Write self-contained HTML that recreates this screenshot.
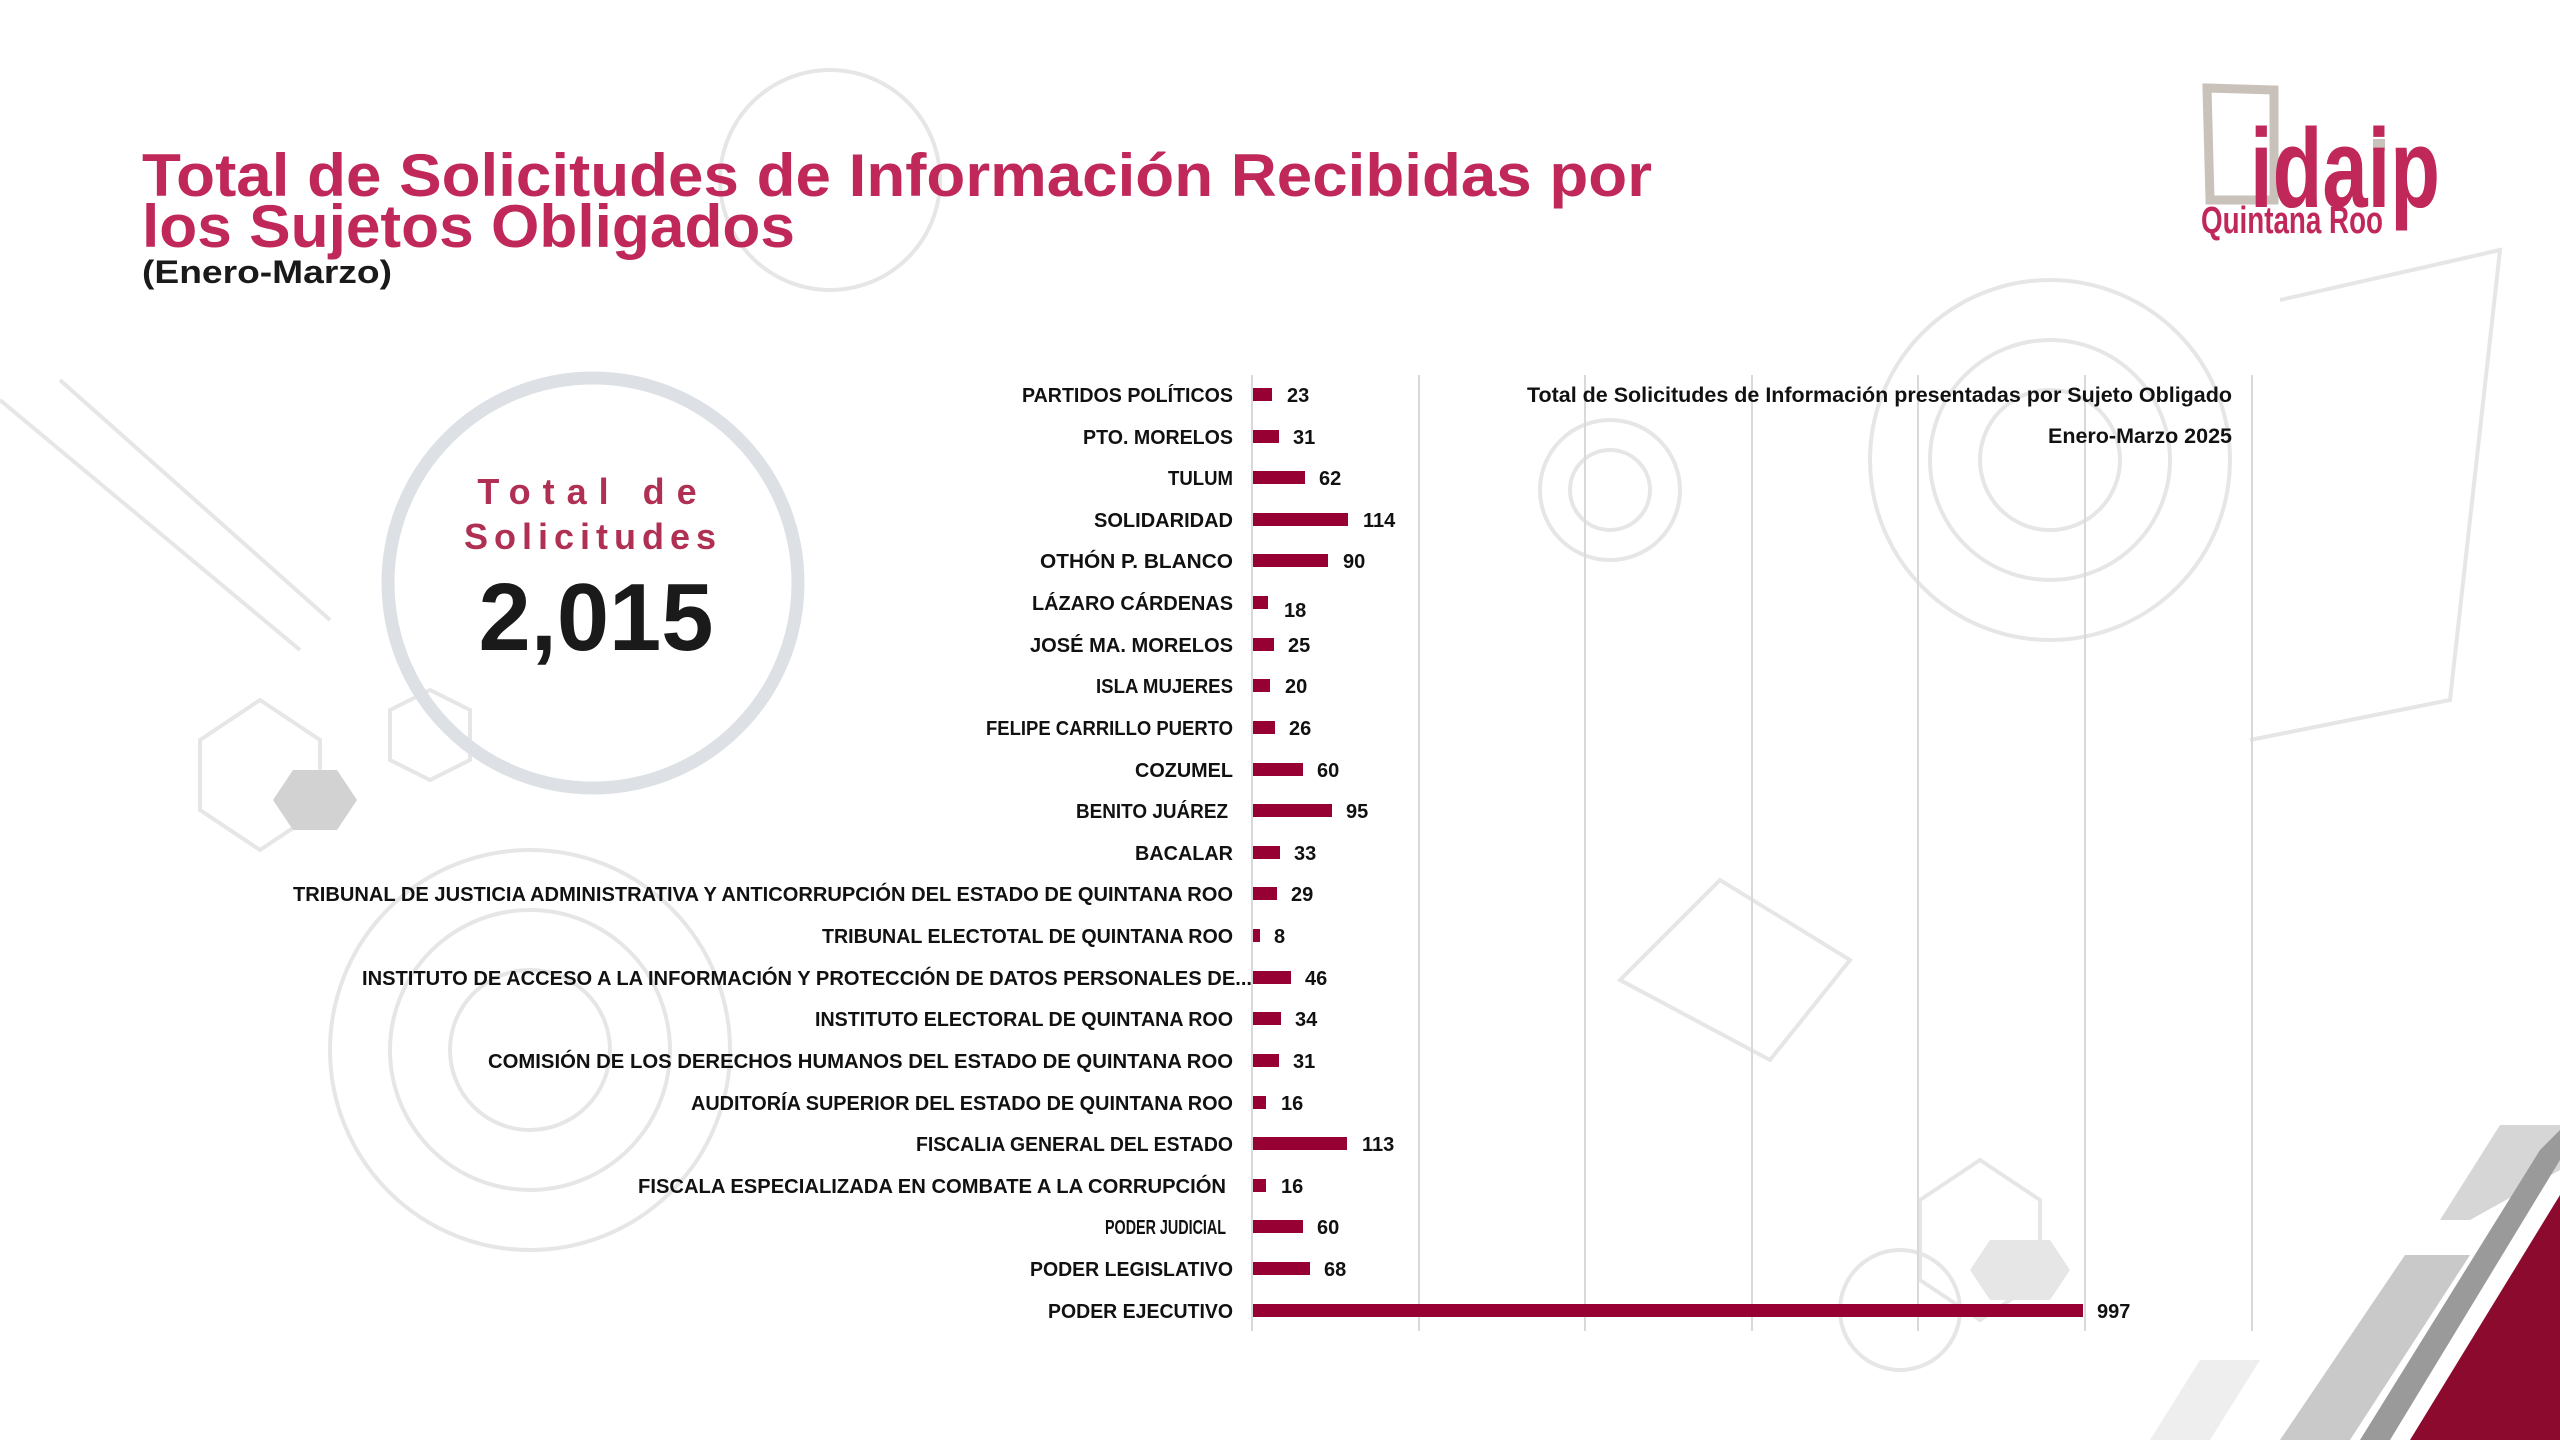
<!DOCTYPE html>
<html><head><meta charset="utf-8"><style>html,body{margin:0;padding:0;background:#fff}svg{display:block}</style></head>
<body>
<svg width="2560" height="1440" viewBox="0 0 2560 1440" xmlns="http://www.w3.org/2000/svg" font-family="Liberation Sans, sans-serif">
<rect width="2560" height="1440" fill="#fff"/>
<!-- faint decorations -->
<g fill="none" stroke="#e6e6e6" stroke-width="4">
<circle cx="2050" cy="460" r="180"/><circle cx="2050" cy="460" r="120"/><circle cx="2050" cy="460" r="70"/>
<circle cx="1610" cy="490" r="70"/><circle cx="1610" cy="490" r="40"/>
<circle cx="830" cy="180" r="110"/>
<circle cx="530" cy="1050" r="200"/><circle cx="530" cy="1050" r="140"/><circle cx="530" cy="1050" r="80"/>
<polygon points="200,740 260,700 320,740 320,810 260,850 200,810"/>
<polygon points="390,710 430,690 470,710 470,760 430,780 390,760"/>
<polygon points="1920,1200 1980,1160 2040,1200 2040,1280 1980,1320 1920,1280"/>
<circle cx="1900" cy="1310" r="60"/>
<path d="M0 400 L300 650 M60 380 L330 620 M2280 300 L2500 250 L2450 700 L2250 740"/>
<path d="M1620 980 L1720 880 L1850 960 L1770 1060 Z"/>
</g>
<polygon points="293,770 337,770 357,800 337,830 293,830 273,800" fill="#d2d2d2"/>
<polygon points="1990,1240 2050,1240 2070,1270 2050,1300 1990,1300 1970,1270" fill="#e6e6e6"/>
<!-- bottom right stripes -->
<polygon points="2500,1125 2560,1125 2560,1170 2470,1220 2440,1220" fill="#d6d6d6"/>
<polygon points="2405,1255 2470,1255 2350,1440 2280,1440" fill="#c9c9c9"/>
<polygon points="2540,1150 2560,1130 2560,1160 2390,1440 2360,1440" fill="#9a9a9a"/>
<polygon points="2560,1195 2560,1440 2410,1440" fill="#8c0a2e"/>
<polygon points="2200,1360 2260,1360 2210,1440 2150,1440" fill="#eeeeee"/>
<!-- title -->
<text x="142" y="196" font-size="60" font-weight="bold" fill="#c0285a" textLength="1510" lengthAdjust="spacingAndGlyphs">Total de Solicitudes de Información Recibidas por</text>
<text x="142" y="247" font-size="60" font-weight="bold" fill="#c0285a" textLength="653" lengthAdjust="spacingAndGlyphs">los Sujetos Obligados</text>
<text x="142" y="283" font-size="32" font-weight="bold" fill="#1a1a1a" textLength="250" lengthAdjust="spacingAndGlyphs">(Enero-Marzo)</text>
<!-- logo -->
<path d="M2207 88 L2274 90 L2274 200 L2210 200 Z" fill="none" stroke="#c9c2bb" stroke-width="9"/>
<rect x="2373" y="139" width="12" height="12" fill="#c9c2bb"/>
<text x="2250" y="207" font-size="112" font-weight="bold" fill="#c0285a" textLength="190" lengthAdjust="spacingAndGlyphs">idaip</text>
<text x="2201" y="233" font-size="38" font-weight="bold" fill="#c0285a" textLength="182" lengthAdjust="spacingAndGlyphs">Quintana Roo</text>
<!-- circle -->
<circle cx="593" cy="583" r="205" fill="none" stroke="#dde1e6" stroke-width="13"/>
<text x="593" y="504" font-size="36" fill="#b03054" text-anchor="middle" letter-spacing="12" font-weight="bold">Total de</text>
<text x="593" y="549" font-size="36" fill="#b03054" text-anchor="middle" letter-spacing="6" font-weight="bold">Solicitudes</text>
<text x="596" y="650" font-size="96" font-weight="bold" fill="#1a1a1a" text-anchor="middle" textLength="235" lengthAdjust="spacingAndGlyphs">2,015</text>
<!-- grid -->
<g stroke="#d9d9d9" stroke-width="2">
<line x1="1419" y1="375" x2="1419" y2="1331"/><line x1="1585" y1="375" x2="1585" y2="1331"/>
<line x1="1752" y1="375" x2="1752" y2="1331"/><line x1="1918" y1="375" x2="1918" y2="1331"/>
<line x1="2085" y1="375" x2="2085" y2="1331"/><line x1="2252" y1="375" x2="2252" y2="1331"/>
<line x1="1252" y1="375" x2="1252" y2="1331"/>
</g>
<text x="2232" y="402" font-size="21" font-weight="bold" fill="#111" text-anchor="end" textLength="705" lengthAdjust="spacingAndGlyphs">Total de Solicitudes de Información presentadas por Sujeto Obligado</text>
<text x="2232" y="443" font-size="21" font-weight="bold" fill="#111" text-anchor="end" textLength="184" lengthAdjust="spacingAndGlyphs">Enero-Marzo 2025</text>
<g font-size="20" font-weight="bold" fill="#111">
<script type="text/plain"></script>
</g>
<g id="rows" font-size="20" font-weight="bold" fill="#111"></g>
<g fill="#960033" font-size="20" font-weight="bold">
<!-- rows: y center = 395 + i*41.6 -->
<rect x="1253" y="388" width="19" height="13"/><text x="1287" y="402" fill="#111">23</text>
<rect x="1253" y="430" width="26" height="13"/><text x="1293" y="444" fill="#111">31</text>
<rect x="1253" y="471" width="52" height="13"/><text x="1319" y="485" fill="#111">62</text>
<rect x="1253" y="513" width="95" height="13"/><text x="1363" y="527" fill="#111">114</text>
<rect x="1253" y="554" width="75" height="13"/><text x="1343" y="568" fill="#111">90</text>
<rect x="1253" y="596" width="15" height="13"/><text x="1284" y="617" fill="#111">18</text>
<rect x="1253" y="638" width="21" height="13"/><text x="1288" y="652" fill="#111">25</text>
<rect x="1253" y="679" width="17" height="13"/><text x="1285" y="693" fill="#111">20</text>
<rect x="1253" y="721" width="22" height="13"/><text x="1289" y="735" fill="#111">26</text>
<rect x="1253" y="763" width="50" height="13"/><text x="1317" y="777" fill="#111">60</text>
<rect x="1253" y="804" width="79" height="13"/><text x="1346" y="818" fill="#111">95</text>
<rect x="1253" y="846" width="27" height="13"/><text x="1294" y="860" fill="#111">33</text>
<rect x="1253" y="887" width="24" height="13"/><text x="1291" y="901" fill="#111">29</text>
<rect x="1253" y="929" width="7" height="13"/><text x="1274" y="943" fill="#111">8</text>
<rect x="1253" y="971" width="38" height="13"/><text x="1305" y="985" fill="#111">46</text>
<rect x="1253" y="1012" width="28" height="13"/><text x="1295" y="1026" fill="#111">34</text>
<rect x="1253" y="1054" width="26" height="13"/><text x="1293" y="1068" fill="#111">31</text>
<rect x="1253" y="1096" width="13" height="13"/><text x="1281" y="1110" fill="#111">16</text>
<rect x="1253" y="1137" width="94" height="13"/><text x="1362" y="1151" fill="#111">113</text>
<rect x="1253" y="1179" width="13" height="13"/><text x="1281" y="1193" fill="#111">16</text>
<rect x="1253" y="1220" width="50" height="13"/><text x="1317" y="1234" fill="#111">60</text>
<rect x="1253" y="1262" width="57" height="13"/><text x="1324" y="1276" fill="#111">68</text>
<rect x="1253" y="1304" width="830" height="13"/><text x="2097" y="1318" fill="#111">997</text>
</g>
<g font-size="20" font-weight="bold" fill="#111" text-anchor="end">
<text x="1233" y="402" textLength="211" lengthAdjust="spacingAndGlyphs">PARTIDOS POLÍTICOS</text>
<text x="1233" y="444" textLength="150" lengthAdjust="spacingAndGlyphs">PTO. MORELOS</text>
<text x="1233" y="485" textLength="65" lengthAdjust="spacingAndGlyphs">TULUM</text>
<text x="1233" y="527" textLength="139" lengthAdjust="spacingAndGlyphs">SOLIDARIDAD</text>
<text x="1233" y="568" textLength="193" lengthAdjust="spacingAndGlyphs">OTHÓN P. BLANCO</text>
<text x="1233" y="610" textLength="201" lengthAdjust="spacingAndGlyphs">LÁZARO CÁRDENAS</text>
<text x="1233" y="652" textLength="203" lengthAdjust="spacingAndGlyphs">JOSÉ MA. MORELOS</text>
<text x="1233" y="693" textLength="137" lengthAdjust="spacingAndGlyphs">ISLA MUJERES</text>
<text x="1233" y="735" textLength="247" lengthAdjust="spacingAndGlyphs">FELIPE CARRILLO PUERTO</text>
<text x="1233" y="777" textLength="98" lengthAdjust="spacingAndGlyphs">COZUMEL</text>
<text x="1228" y="818" textLength="152" lengthAdjust="spacingAndGlyphs">BENITO JUÁREZ</text>
<text x="1233" y="860" textLength="98" lengthAdjust="spacingAndGlyphs">BACALAR</text>
<text x="1233" y="901" textLength="940" lengthAdjust="spacingAndGlyphs">TRIBUNAL DE JUSTICIA ADMINISTRATIVA Y ANTICORRUPCIÓN DEL ESTADO DE QUINTANA ROO</text>
<text x="1233" y="943" textLength="411" lengthAdjust="spacingAndGlyphs">TRIBUNAL ELECTOTAL DE QUINTANA ROO</text>
<text x="1252" y="985" textLength="890" lengthAdjust="spacingAndGlyphs">INSTITUTO DE ACCESO A LA INFORMACIÓN Y PROTECCIÓN DE DATOS PERSONALES DE...</text>
<text x="1233" y="1026" textLength="418" lengthAdjust="spacingAndGlyphs">INSTITUTO ELECTORAL DE QUINTANA ROO</text>
<text x="1233" y="1068" textLength="745" lengthAdjust="spacingAndGlyphs">COMISIÓN DE LOS DERECHOS HUMANOS DEL ESTADO DE QUINTANA ROO</text>
<text x="1233" y="1110" textLength="542" lengthAdjust="spacingAndGlyphs">AUDITORÍA SUPERIOR DEL ESTADO DE QUINTANA ROO</text>
<text x="1233" y="1151" textLength="317" lengthAdjust="spacingAndGlyphs">FISCALIA GENERAL DEL ESTADO</text>
<text x="1226" y="1193" textLength="588" lengthAdjust="spacingAndGlyphs">FISCALA ESPECIALIZADA EN COMBATE A LA CORRUPCIÓN</text>
<text x="1226" y="1234" textLength="121" lengthAdjust="spacingAndGlyphs">PODER JUDICIAL</text>
<text x="1233" y="1276" textLength="203" lengthAdjust="spacingAndGlyphs">PODER LEGISLATIVO</text>
<text x="1233" y="1318" textLength="185" lengthAdjust="spacingAndGlyphs">PODER EJECUTIVO</text>
</g>
</svg>
</body></html>
